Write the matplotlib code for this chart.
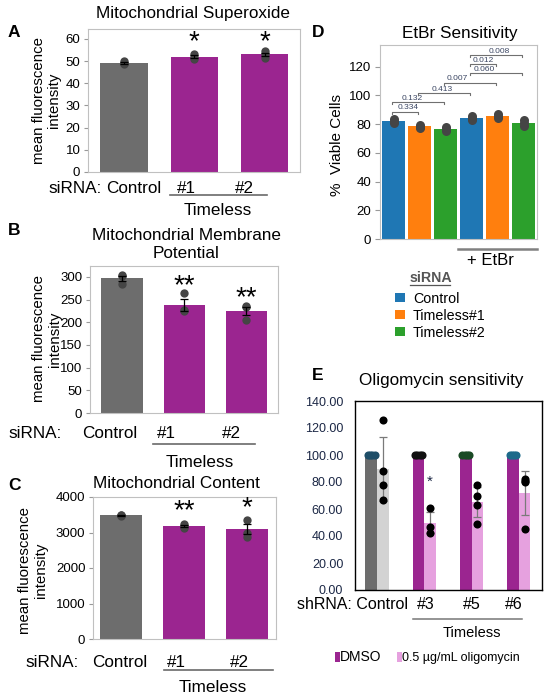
import numpy as np
import matplotlib
matplotlib.use("Agg")
import matplotlib.pyplot as plt
from matplotlib.lines import Line2D
from matplotlib.patches import Rectangle

plt.rcParams['font.family'] = ['Liberation Sans', 'DejaVu Sans']

W, H = 550, 698

# ---- A-C: siRNA knockdown, mitochondrial readouts
sirna_groups = ["Control", "#1", "#2"]

superoxide_mean = [49.3, 52.0, 53.0]
superoxide_sem = [0.4, 0.6, 0.9]
superoxide_pts = [[48.6, 49.3, 50.0], [51.0, 52.0, 53.2], [51.4, 53.0, 54.4]]
superoxide_sig = ["", "*", "*"]

potential_mean = [297, 238, 225]
potential_sem = [6, 12.5, 9.5]
potential_pts = [[305, 302, 284], [264, 226, 225], [236, 205, 234]]
potential_sig = ["", "**", "**"]

content_mean = [3480, 3180, 3090]
content_sem = [15, 35, 140]
content_pts = [[3470, 3480, 3490], [3140, 3190, 3250], [2880, 2980, 3350]]
content_sig = ["", "**", "*"]

# ---- D: EtBr sensitivity
etbr_labels = ["Control", "Timeless#1", "Timeless#2"]
etbr_mean = [82.2, 78.3, 76.7, 84.1, 85.7, 80.6]
etbr_pts = [[81.0, 82.3, 83.6], [77.2, 78.2, 79.4], [75.4, 76.6, 78.0],
            [82.6, 84.0, 85.4], [84.2, 85.6, 87.0], [78.6, 80.5, 82.6]]
etbr_pvals = ["0.334", "0.132", "0.413", "0.007", "0.060", "0.012", "0.008"]
etbr_pairs = [(0, 1), (0, 2), (1, 3), (2, 4), (3, 5), (3, 4), (3, 5)]

# ---- E: oligomycin sensitivity
shrna_groups = ["Control", "#3", "#5", "#6"]
dmso_mean = [100, 100, 100, 100]
dmso_pts = [[100, 100, 100, 100]] * 4
oligo_mean = [89.7, 50.0, 65.0, 72.0]
oligo_sem = [23.5, 8.0, 11.0, 16.5]
oligo_pts = [[126, 88, 78, 67], [61, 47, 42], [78, 70, 63, 49], [82, 81, 80, 45]]
oligo_sig = ["", "*", "", ""]

# colours
GRAY = "#6d6d6d"
PURPLE = "#9b2590"
LGRAY = "#d3d3d3"
PINK = "#e6a1df"
SPINE = "#c0c0c0"
ETBR_COLORS = ["#1f77b4", "#ff7f0e", "#2ca02c"]
DMSO_DOTS = ["#1f4e68", "#111111", "#1a4a25", "#1d6a8a"]
NAVY = "#1b2745"

fig = plt.figure(figsize=(W / 100, H / 100), dpi=100)


def px_axes(x0, y0, x1, y1):
    return fig.add_axes([x0 / W, 1 - y1 / H, (x1 - x0) / W, (y1 - y0) / H])


def ptext(x, y, s, **kw):
    kw.setdefault("va", "baseline")
    fig.text(x / W, 1 - y / H, s, **kw)


def pline(x0, x1, y, color="#6a6a6a", lw=1.2):
    fig.add_artist(Line2D([x0 / W, x1 / W], [1 - y / H] * 2, color=color, lw=lw))


def prect(x, y, w, h, color):
    fig.add_artist(Rectangle((x / W, 1 - (y + h) / H), w / W, h / H, color=color, lw=0))


def flow_panel(box, means, sems, pts, sig, star_y, ylim, yticks, xlim):
    ax = px_axes(*box)
    x = np.arange(len(means))
    ax.bar(x, means, 0.67, color=[GRAY, PURPLE, PURPLE], zorder=1)
    for i, p in enumerate(pts):
        ax.scatter(np.full(len(p), i), p, s=36, color="#454545", linewidths=0, zorder=2)
    ax.errorbar(x, means, yerr=sems, fmt="none", ecolor="black", elinewidth=0.9,
                capsize=3, capthick=0.9, zorder=3)
    for i, s in enumerate(sig):
        if s:
            ax.text(i, star_y[i], s, ha="center", va="baseline", fontsize=20)
    ax.set_xlim(*xlim)
    ax.set_ylim(*ylim)
    ax.set_yticks(yticks)
    ax.set_xticks([])
    for sp in ax.spines.values():
        sp.set_color(SPINE)
    ax.tick_params(axis="y", length=3, width=0.8, color="#999999", pad=2.5, labelsize=9.5)
    return ax


def group_labels(prefix_x, xs, base, line, timeless):
    ptext(prefix_x[0], base, "siRNA:", fontsize=12.3)
    for lab, xx in zip(sirna_groups, [prefix_x[1]] + xs):
        ptext(xx, base, lab, fontsize=12.3)
    pline(line[0], line[1], line[2])
    ptext(timeless[0], timeless[1], "Timeless", ha="center", fontsize=12.3)


YLAB = "mean fluorescence\nintensity"

# ---------------- A
flow_panel((88, 29, 300, 172), superoxide_mean, superoxide_sem, superoxide_pts,
           superoxide_sig, [0, 55.3, 55.3], (0, 64.5), range(0, 61, 10), (-0.51, 2.5))
ptext(193.5, 18.3, "Mitochondrial Superoxide", ha="center", fontsize=12.3)
ptext(46.5, 100, YLAB, rotation=90, ha="center", va="center", fontsize=10.8, linespacing=1.15)
group_labels((48, 106), [177, 235], 193.3, (170, 267, 195), (218, 215))
ptext(8, 37, "A", fontsize=12.5, weight="bold")

# ---------------- B
flow_panel((90, 266, 278, 413), potential_mean, potential_sem, potential_pts,
           potential_sig, [0, 264, 238], (0, 324), range(0, 301, 50), (-0.52, 2.51))
ptext(186.5, 240, "Mitochondrial Membrane", ha="center", fontsize=12.3)
ptext(186.5, 258, "Potential", ha="center", fontsize=12.3)
ptext(47, 339, YLAB, rotation=90, ha="center", va="center", fontsize=10.8, linespacing=1.15)
group_labels((8, 82), [157, 222], 438, (153, 255, 444), (200, 467))
ptext(8, 235, "B", fontsize=12.5, weight="bold")

# ---------------- C
flow_panel((93, 497, 276, 639), content_mean, content_sem, content_pts,
           content_sig, [0, 3398, 3482], (0, 4000), range(0, 4001, 1000), (-0.45, 2.47))
ptext(176.5, 488, "Mitochondrial Content", ha="center", fontsize=12.3)
ptext(33, 570, YLAB, rotation=90, ha="center", va="center", fontsize=10.8, linespacing=1.15)
group_labels((25, 92), [167, 230], 667, (164, 273, 670), (213, 692))
ptext(8, 490, "C", fontsize=12.5, weight="bold")

# ---------------- D
axd = px_axes(380, 45, 537, 239)
xd = np.arange(len(etbr_mean))
axd.bar(xd, etbr_mean, 0.88, color=ETBR_COLORS * 2, zorder=1)
for i, p in enumerate(etbr_pts):
    axd.scatter(np.full(len(p), i), p, s=42, color="#454545", linewidths=0, zorder=2)
levels = [88.7, 95.5, 101.5, 108.9, 115.5, 121.7, 128.2]
text_x = [0.56, 0.71, 1.86, 2.43, 3.47, 3.43, 4.04]
for (i, j), pv, lv, tx in zip(etbr_pairs, etbr_pvals, levels, text_x):
    a, b = i - 0.07, j - 0.06
    axd.plot([a, a, b, b], [lv - 1.6, lv, lv, lv - 1.6], color="#707070", lw=0.8, zorder=3)
    axd.text(tx, lv + 0.1, pv, ha="center", va="bottom", fontsize=6, color="#3b4663")
axd.set_xlim(-0.52, 5.5)
axd.set_ylim(0, 135)
axd.set_yticks(range(0, 121, 20))
axd.set_xticks([])
for sp in axd.spines.values():
    sp.set_color(SPINE)
axd.tick_params(axis="y", length=3.5, width=0.8, color="#999999", pad=3, labelsize=9.5)
ptext(459.5, 38.3, "EtBr Sensitivity", ha="center", fontsize=12.3)
ptext(337, 145, "%  Viable Cells", rotation=90, ha="center", va="center", fontsize=11)
pline(458, 537, 249, color="#808080", lw=1.8)
ptext(490, 265, "+ EtBr", ha="center", fontsize=12)
ptext(410, 282, "siRNA", fontsize=10.2, weight="bold", color="#555555")
pline(410, 450, 285, color="#555555", lw=0.9)
for k, (lab, c) in enumerate(zip(etbr_labels, ETBR_COLORS)):
    base = 303 + 17.2 * k
    prect(395, base - 10, 10, 9, c)
    ptext(413, base, lab, fontsize=10.3)
ptext(312, 37, "D", fontsize=12.5, weight="bold")

# ---------------- E
axe = px_axes(355, 401, 542, 590)
xe = np.arange(len(shrna_groups))
bw = 0.245
axe.bar(xe - bw / 2, dmso_mean, bw, color=[GRAY] + [PURPLE] * 3, zorder=1)
axe.bar(xe + bw / 2, oligo_mean, bw, color=[LGRAY] + [PINK] * 3, zorder=1)
axe.errorbar(xe + bw / 2, oligo_mean, yerr=oligo_sem, fmt="none", ecolor="#7a7a7a",
             elinewidth=0.9, capsize=3, capthick=0.9, zorder=2)
for i, p in enumerate(dmso_pts):
    offs = np.linspace(-0.07, 0.07, len(p))
    axe.scatter(i - bw / 2 + offs, p, s=34, color=DMSO_DOTS[i], linewidths=0, zorder=3)
for i, p in enumerate(oligo_pts):
    axe.scatter(np.full(len(p), i + bw / 2), p, s=34, color="black", linewidths=0, zorder=3)
for i, s in enumerate(oligo_sig):
    if s:
        axe.text(i + bw / 2, 80, s, ha="center", va="center", fontsize=11, color=NAVY)
axe.set_xlim(-0.465, 3.49)
axe.set_ylim(0, 140)
axe.set_yticks(range(0, 141, 20))
axe.set_yticklabels([f"{v:.2f}" for v in range(0, 141, 20)])
axe.set_xticks([])
for sp in axe.spines.values():
    sp.set_color("black")
    sp.set_linewidth(1.0)
axe.tick_params(axis="y", length=0, pad=8.5, labelsize=9, labelcolor=NAVY)
ptext(441.5, 385, "Oligomycin sensitivity", ha="center", fontsize=12.3)
ptext(297, 609, "shRNA: " + shrna_groups[0], fontsize=11.5)
for lab, xx in zip(shrna_groups[1:], [425.5, 471.5, 513.5]):
    ptext(xx, 609, lab, ha="center", fontsize=11.5)
pline(413, 522, 619, color="#777777", lw=1.1)
ptext(472, 637, "Timeless", ha="center", fontsize=10.5)
prect(335, 652, 5, 10, PURPLE)
ptext(340, 661, "DMSO", fontsize=10)
prect(397, 652, 5, 10, PINK)
ptext(402, 661, "0.5 \u00b5g/mL oligomycin", fontsize=9)
ptext(312, 380, "E", fontsize=12.5, weight="bold")

fig.savefig("out.png", dpi=100)
